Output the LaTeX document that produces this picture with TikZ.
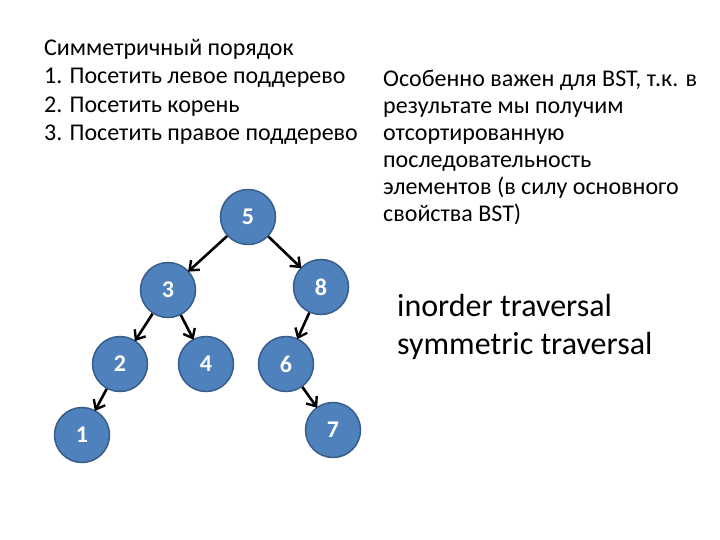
\documentclass[tikz,border=0pt]{standalone}
\usepackage{fontspec}
\setmainfont{Carlito}
\usetikzlibrary{arrows.meta}
\definecolor{vertexfill}{HTML}{4F81BD}
\definecolor{vertexline}{HTML}{385D8A}

\begin{document}
\begin{tikzpicture}[x=1pt,y=-1pt,
        vertex/.style={circle, draw=vertexline, fill=vertexfill, line width=1.5pt,
            minimum size=55pt, inner sep=0pt, text=white,
            font=\bfseries\fontsize{24}{24}\selectfont},
        edge/.style={-{Straight Barb[length=8pt,width=13pt,line width=2.4pt]},
            line width=2.6pt, shorten >=-1pt},
        textblock/.style={anchor=north west, align=left, inner sep=0pt}]
    \useasboundingbox (0,0) rectangle (720,540);

    % tree
    \node[vertex] (n5) at (248,217) {5};
    \node[vertex] (n3) at (168,290) {3};
    \node[vertex] (n8) at (321,287) {8};
    \node[vertex] (n2) at (120,364) {2};
    \node[vertex] (n4) at (206,364) {4};
    \node[vertex] (n6) at (286,364) {6};
    \node[vertex] (n1) at (82,435) {1};
    \node[vertex] (n7) at (333,430) {7};

    \draw[edge] (n5) -- (n3);
    \draw[edge] (n5) -- (n8);
    \draw[edge] (n3) -- (n2);
    \draw[edge] (n3) -- (n4);
    \draw[edge] (n8) -- (n6);
    \draw[edge] (n2) -- (n1);
    \draw[edge] (n6) -- (n7);

    % texts
    \node[textblock, font=\fontsize{24}{28.3}\selectfont] (order) at (44,39)
        {Симметричный порядок\\1. Посетить левое поддерево\\2. Посетить корень\\3. Посетить правое поддерево};
    \node[textblock, font=\fontsize{24}{27}\selectfont] (note) at (383,70)
        {Особенно важен для BST, т.к. в\\результате мы получим\\отсортированную\\последовательность\\элементов (в силу основного\\свойства BST)};
    \node[textblock, font=\fontsize{32}{38}\selectfont] (names) at (397,294)
        {inorder traversal\\symmetric traversal};
\end{tikzpicture}
\end{document}
